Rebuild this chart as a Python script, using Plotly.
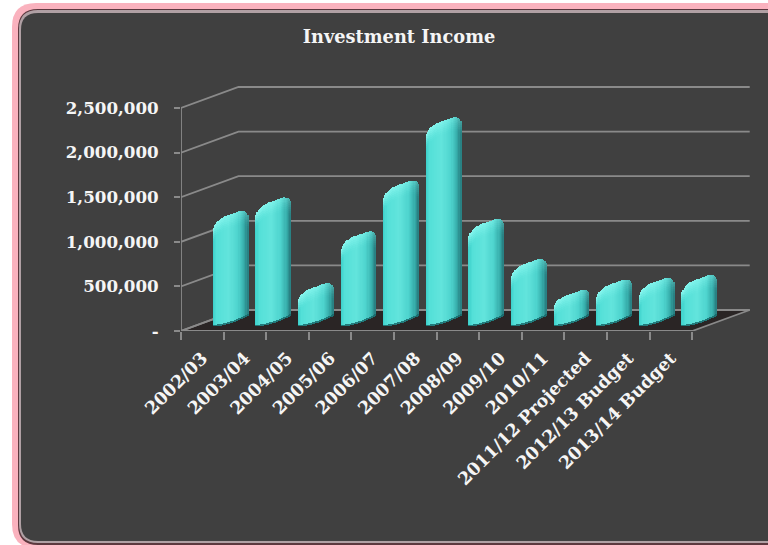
import math
import plotly.graph_objects as go

# Chart content
title = "Investment Income"
categories = ["2002/03", "2003/04", "2004/05", "2005/06", "2006/07", "2007/08", "2008/09",
              "2009/10", "2010/11", "2011/12 Projected", "2012/13 Budget", "2013/14 Budget"]
income = [1210000, 1360000, 400000, 980000, 1550000, 2260000, 1120000,
          670000, 320000, 440000, 460000, 490000]
value_ticks = [0, 500000, 1000000, 1500000, 2000000, 2500000]
value_labels = ["-", "500,000", "1,000,000", "1,500,000", "2,000,000", "2,500,000"]

# Page geometry of the plotting frame (pixels)
W, H = 768, 545
LEFT, RIGHT, TOP, BOTTOM = 181, 752, 80, 331
PX_PER_CAT = 42.6
PX_PER_VAL = 44.6 / 500000
x_max = -0.5 + (RIGHT - LEFT) / PX_PER_CAT
y_max = (BOTTOM - TOP) / PX_PER_VAL

# Oblique projection of the back wall relative to the front plane
DEPTH_X = 57.5 / PX_PER_CAT
DEPTH_Y = 21 / PX_PER_VAL

GRID = "rgb(138,138,138)"
TEXT = "rgb(245,245,245)"
FONT = "DejaVu Serif"


def px_x(px):
    return (px - LEFT) / (RIGHT - LEFT)


def px_y(py):
    return (BOTTOM - py) / (BOTTOM - TOP)


def rounded(x0, y0, x1, y1, r):
    """Rounded rectangle as a paper-referenced SVG path, given in page pixels."""
    X, Y = px_x, px_y
    return (f"M {X(x0 + r)} {Y(y0)} L {X(x1 - r)} {Y(y0)} Q {X(x1)} {Y(y0)} {X(x1)} {Y(y0 + r)} "
            f"L {X(x1)} {Y(y1 - r)} Q {X(x1)} {Y(y1)} {X(x1 - r)} {Y(y1)} "
            f"L {X(x0 + r)} {Y(y1)} Q {X(x0)} {Y(y1)} {X(x0)} {Y(y1 - r)} "
            f"L {X(x0)} {Y(y0 + r)} Q {X(x0)} {Y(y0)} {X(x0 + r)} {Y(y0)} Z")


def panel(x0, y0, x1, y1, r, color):
    return dict(type="path", xref="paper", yref="paper", path=rounded(x0, y0, x1, y1, r),
                fillcolor=color, line_width=0, layer="below")


frame_shapes = [
    panel(12, 3, 790, 548, 24, "rgb(250,178,190)"),
    panel(18, 9, 790, 545, 20, "rgb(92,56,62)"),
    panel(19, 10, 790, 543, 19, "rgb(176,160,164)"),
    panel(21, 13, 790, 541, 17, "rgb(64,64,64)"),
]


def mix(a, b, t):
    return tuple(a[k] + (b[k] - a[k]) * t for k in range(3))


def rgb(c):
    return f"rgb({c[0]:.0f},{c[1]:.0f},{c[2]:.0f})"


# Horizontal shading across the face of a rounded column
SHADE = [(0.0, (60, 208, 202)), (0.12, (84, 224, 216)), (0.45, (98, 228, 220)),
         (0.72, (78, 212, 206)), (0.9, (54, 172, 170)), (1.0, (38, 122, 124))]
CAP_LIGHT = (140, 248, 240)
EDGE_DARK = (24, 104, 106)


def shade(u):
    for (u0, c0), (u1, c1) in zip(SHADE, SHADE[1:]):
        if u <= u1:
            return mix(c0, c1, (u - u0) / (u1 - u0))
    return SHADE[-1][1]


N_STRIPS = 30
N_CAP = 7
BAR_WIDTH = 35 / PX_PER_CAT
BAR_SHIFT = 0.67


def column(i, value):
    """One column as narrow stacked strips: sheared base, rounded shoulders, shaded face."""
    xs, bases, heights, colors = [], [], [], []
    strip_w = BAR_WIDTH / N_STRIPS
    val_px = value * PX_PER_VAL
    r_left = min(14, 0.36 * val_px)
    r_right = min(11, 0.3 * val_px)
    for j in range(N_STRIPS):
        u = (j + 0.5) / N_STRIPS
        lift = 5 + 10.7 * u ** 1.7
        drop = 0
        if u < 0.45:
            drop = r_left * (1 - math.sqrt(1 - (1 - u / 0.45) ** 2))
        elif u > 0.72:
            drop = r_right * (1 - math.sqrt(1 - ((u - 0.72) / 0.28) ** 2))
        length = val_px - drop
        cap = min(13, 0.45 * val_px)
        body = max(length - cap, 1.5)
        segs = [(lift, 1.4, mix(shade(u), EDGE_DARK, 0.85)),
                (lift + 1.2, body - 1.2, shade(u))]
        seg_h = (length - body) / N_CAP
        for k in range(N_CAP):
            t = ((k + 1) / N_CAP) ** 1.4 * (1 - 0.75 * u) * 0.95
            segs.append((lift + body + k * seg_h, seg_h + 0.3, mix(shade(u), CAP_LIGHT, t)))
        cx = i + BAR_SHIFT + (u - 0.5) * BAR_WIDTH
        for start, size, col in segs:
            xs.append(cx)
            bases.append(start / PX_PER_VAL)
            heights.append(size / PX_PER_VAL)
            colors.append(rgb(col))
    return go.Bar(x=xs, y=heights, base=bases, width=strip_w * 1.25,
                  marker=dict(color=colors, line_width=0), name=categories[i],
                  hoverinfo="skip", showlegend=False, xaxis="x2", yaxis="y2")


fig = go.Figure()

x_first, x_last = -0.5, len(categories) - 0.5

# Floor of the oblique box
fig.add_trace(go.Scatter(
    x=[x_first, x_last, x_last + DEPTH_X, x_first + DEPTH_X, x_first],
    y=[0, 0, DEPTH_Y, DEPTH_Y, 0],
    mode="lines", fill="toself", fillcolor="rgb(42,37,37)",
    line=dict(color=GRID, width=1.8), cliponaxis=False, hoverinfo="skip", showlegend=False))

# Wall gridlines and their diagonals back from the value axis
for v in value_ticks:
    fig.add_trace(go.Scatter(
        x=[x_first, x_first + DEPTH_X, x_last + DEPTH_X],
        y=[v, v + DEPTH_Y, v + DEPTH_Y],
        mode="lines", line=dict(color=GRID, width=1.8), cliponaxis=False,
        hoverinfo="skip", showlegend=False))

# Front edges of the value and category axes
fig.add_trace(go.Scatter(
    x=[x_first, x_first, x_last], y=[value_ticks[-1], 0, 0],
    mode="lines", line=dict(color=GRID, width=1.8), cliponaxis=False,
    hoverinfo="skip", showlegend=False))

for i, v in enumerate(income):
    fig.add_trace(column(i, v))

boundaries = [k - 0.5 for k in range(len(categories) + 1)]

fig.update_layout(
    width=W, height=H, autosize=False,
    paper_bgcolor="white", plot_bgcolor="rgba(0,0,0,0)",
    margin=dict(l=LEFT, r=W - RIGHT, t=TOP, b=H - BOTTOM, pad=0),
    barmode="overlay", bargap=0,
    shapes=frame_shapes,
    title=dict(text=f"<b>{title}</b>", x=399 / W, xanchor="center", y=1 - 37 / H, yanchor="middle",
               font=dict(family=FONT, size=17.8, color=TEXT)),
    xaxis=dict(range=[-0.5, x_max], tickmode="array",
               tickvals=list(range(len(categories))), ticktext=[f"<b>{c}</b>" for c in categories],
               tickangle=-45, ticks="outside", ticklen=8, tickcolor="rgba(0,0,0,0)",
               minor=dict(tickmode="array", tickvals=boundaries, ticks="outside", ticklen=8,
                          tickcolor=GRID, tickwidth=1.5, showgrid=False),
               showgrid=False, showline=False, zeroline=False, ticklabelstandoff=1,
               tickfont=dict(family=FONT, size=17.5, color=TEXT)),
    yaxis=dict(range=[0, y_max], tickmode="array", tickvals=value_ticks,
               ticktext=[f"<b>{t}</b>" for t in value_labels],
               ticks="outside", ticklen=6, tickcolor=GRID, tickwidth=1.5,
               showgrid=False, showline=False, zeroline=False, ticklabelstandoff=12,
               tickfont=dict(family=FONT, size=16.7, color=TEXT)),
    xaxis2=dict(overlaying="x", matches="x", visible=False),
    yaxis2=dict(overlaying="y", matches="y", visible=False),
)

fig.write_html("out.html", config={"displayModeBar": False})
